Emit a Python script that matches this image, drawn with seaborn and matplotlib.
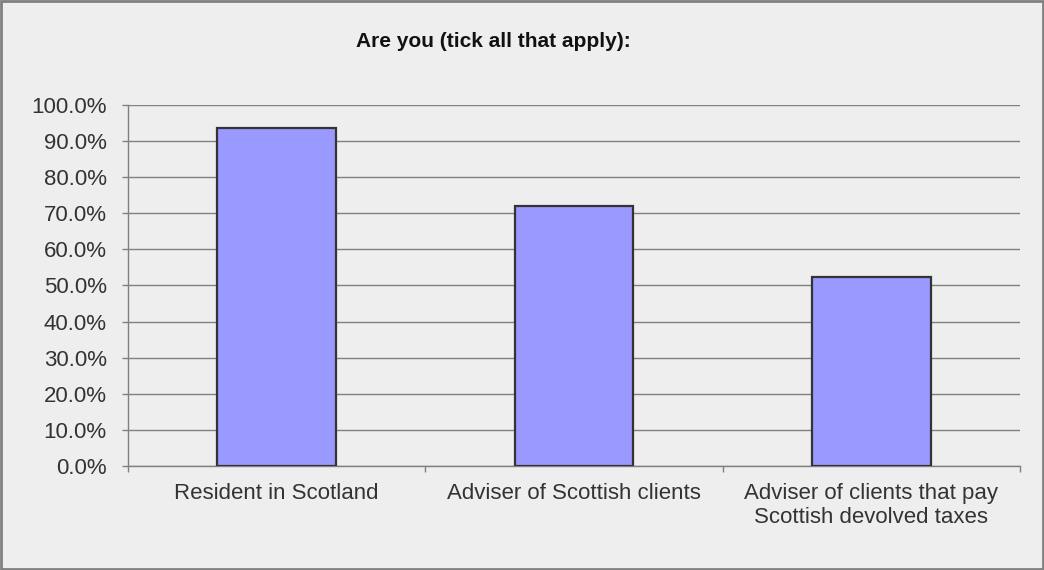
import matplotlib
matplotlib.use("Agg")
import matplotlib.pyplot as plt
import seaborn as sns
import pandas as pd
from matplotlib.ticker import FuncFormatter, FixedLocator

categories = ["Resident in Scotland", "Adviser of Scottish clients",
              "Adviser of clients that pay\nScottish devolved taxes"]
values = [93.6, 72.0, 52.4]
yticks = [0, 10, 20, 30, 40, 50, 60, 70, 80, 90, 100]
title = "Are you (tick all that apply):"

sns.set_theme(style="white")
plt.rcParams["font.family"] = ["Liberation Sans", "DejaVu Sans"]

bg = "#eeeeee"
fig = plt.figure(figsize=(10.44, 5.70), dpi=100, facecolor=bg)
ax = fig.add_axes([0.1226, 0.1825, 0.8544, 0.6333])
ax.set_facecolor(bg)

df = pd.DataFrame({"cat": categories, "val": values})
sns.barplot(data=df, x="cat", y="val", ax=ax, color="#9999ff", saturation=1,
            width=0.4, edgecolor="#333333", linewidth=1.6, zorder=3)

ax.set_ylim(0, 100)
ax.set_xlim(-0.5, len(categories) - 0.5)
ax.yaxis.set_major_locator(FixedLocator(yticks))
ax.yaxis.set_major_formatter(FuncFormatter(lambda v, p: f"{v:.1f}%"))
ax.grid(axis="y", color="#808080", linewidth=1.0, zorder=0)
ax.set_axisbelow(True)
for s in ["top", "right"]:
    ax.spines[s].set_visible(False)
for s in ["left", "bottom"]:
    ax.spines[s].set_color("#808080")
    ax.spines[s].set_linewidth(1.0)

ax.tick_params(axis="y", which="major", left=True, length=4.3, width=1,
               color="#808080", labelsize=16, labelcolor="#333333", pad=11)
ax.tick_params(axis="x", which="major", bottom=False, length=0,
               labelsize=16, labelcolor="#333333", pad=12)
ax.xaxis.set_minor_locator(FixedLocator([-0.5, 0.5, 1.5, 2.5]))
ax.tick_params(axis="x", which="minor", bottom=True, length=4.3, width=1,
               color="#808080")
ax.set_xlabel("")
ax.set_ylabel("")

fig.text(0.473, 1 - 47 / 570, title, ha="center", va="baseline",
         fontsize=15, color="#111111", fontweight="bold")

fig.patches.append(plt.Rectangle((0.001, 0.001), 0.998, 0.998,
                                 transform=fig.transFigure, fill=False,
                                 edgecolor="#808080", linewidth=2))

fig.savefig("out.png", dpi=100, facecolor=bg)
